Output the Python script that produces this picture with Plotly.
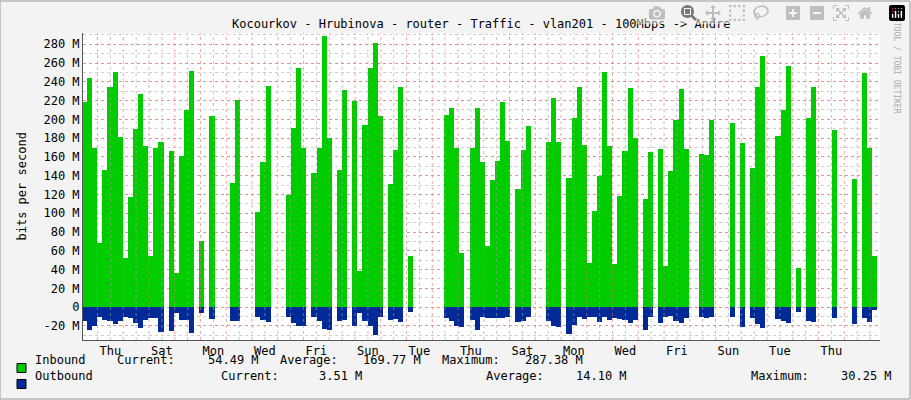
import plotly.graph_objects as go

# one slot ~ 4.8 h, 156 slots over the whole graph; None = no data
N = None
inbound = [219, 244, 170, 68, 146, 234, 250, 181, 52, 117,
           190, 227, 172, 55, 169, 176, N, 166, 36, 161,
           210, 252, N, 70, N, 204, N, N, N, 132,
           221, N, N, N, 101, 155, 236, N, N, N,
           119, 191, 255, 169, N, 143, 169, 289, 180, N,
           146, 231, N, 220, 38, 194, 255, 281, 204, N,
           131, 167, 235, N, 55, N, N, N, N, N,
           N, 205, 212, 169, 58, N, 169, 212, 155, 65,
           135, 156, 218, 177, N, 126, 167, 193, N, N,
           N, 176, 223, 176, N, 138, 201, 234, 173, 47,
           102, 140, 250, 172, 46, 118, 166, 233, 180, N,
           115, 165, N, 168, 44, 145, 199, 232, 168, N,
           N, 163, 162, 199, N, N, N, 196, N, 175,
           N, 148, 234, 267, N, N, 182, 210, 257, N,
           42, N, 201, 235, N, N, N, 189, N, N,
           N, 137, N, 249, 169, 54]
outbound = [-15, -24, -20, -10, -14, -15, -18, -15, -10, -12,
            -17, -22, -14, -12, -12, -27, N, -25, -6, -14,
            -14, -28, N, -6, N, -13, N, N, N, -15,
            -15, N, N, N, -10, -14, -16, N, N, N,
            -11, -17, -20, -20, N, -11, -15, -23, -24, N,
            -15, -14, N, -20, -6, -15, -20, -30, -10, N,
            -14, -13, -16, N, -5, N, N, N, N, N,
            N, -12, -15, -20, -21, N, -14, -24, -11, -12,
            -12, -12, -12, -11, N, -16, -15, -10, N, N,
            N, -15, -20, -21, N, -29, -19, -10, -13, -10,
            -11, -16, -10, -14, -12, -13, -14, -17, -14, N,
            -24, -10, N, -17, -10, -9, -15, -17, -12, N,
            N, -10, -12, -10, N, N, N, -11, N, -21,
            N, -12, -18, -22, N, N, -13, -15, -17, N,
            -5, N, -15, -16, N, N, N, -12, N, N,
            N, -18, N, -12, -16, -3]
slots = list(range(len(inbound)))

day_labels = ["Thu", "Sat", "Mon", "Wed", "Fri", "Sun", "Tue", "Thu",
              "Sat", "Mon", "Wed", "Fri", "Sun", "Tue", "Thu"]
day0 = 2.55      # first midnight, in slots
day_len = 5.05   # slots per day
y_ticks = list(range(-20, 281, 20))
y_text = [f"{v} M" if v else "0" for v in y_ticks]

fig = go.Figure()
fig.add_trace(go.Bar(x=slots, y=inbound, marker_color="#00cc00", width=1,
                     marker_line_width=0, name="Inbound"))
fig.add_trace(go.Bar(x=slots, y=outbound, marker_color="#002a97", width=1,
                     marker_line_width=0, name="Outbound"))

shapes = []
for k in range(32):
    xm = day0 + k * day_len
    if -0.5 < xm < 155.6:
        shapes.append(dict(type="line", xref="x", yref="paper", x0=xm, x1=xm, y0=0, y1=1,
                           line=dict(color="rgba(230,110,110,0.6)", width=1, dash="dot"), layer="above"))
    xn = xm + day_len / 2
    if -0.5 < xn < 155.6:
        shapes.append(dict(type="line", xref="x", yref="paper", x0=xn, x1=xn, y0=0, y1=1,
                           line=dict(color="rgba(160,160,160,0.6)", width=1, dash="dot"), layer="above"))

mono = "DejaVu Sans Mono"
ann = [dict(text="Kocourkov - Hrubinova - router - Traffic - vlan201 - 100Mbps -> Andre",
            xref="paper", yref="paper", x=0.5, y=(340 - 15) / 307, showarrow=False,
            font=dict(family=mono, size=12, color="#000")),
       dict(text="RRDTOOL / TOBI OETIKER", textangle=90, xref="paper", yref="paper",
            x=(902 - 83) / 797, y=(340 - 6) / 307, yanchor="top", showarrow=False,
            font=dict(family=mono, size=8, color="#aaa")),
       dict(text="bits per second", textangle=-90, xref="paper", yref="paper",
            x=(12 - 83) / 797, y=0.5, showarrow=False,
            font=dict(family=mono, size=12, color="#000"))]

def legend_text(txt, px, py, anchor="left"):
    ann.append(dict(text=txt, xref="paper", yref="paper", x=(px - 83) / 797,
                    y=(340 - py) / 307, xanchor=anchor, showarrow=False, borderpad=0,
                    font=dict(family=mono, size=12, color="#000")))

legend_text("Inbound", 34, 368)
legend_text("Current:", 116, 368)
legend_text("54.49 M", 260, 368, "right")
legend_text("Average:", 279, 368)
legend_text("169.77 M", 422, 368, "right")
legend_text("Maximum:", 441, 368)
legend_text("287.38 M", 584, 368, "right")
legend_text("Outbound", 34, 384)
legend_text("Current:", 220, 384)
legend_text("3.51 M", 363, 384, "right")
legend_text("Average:", 485, 384)
legend_text("14.10 M", 628, 384, "right")
legend_text("Maximum:", 750, 384)
legend_text("30.25 M", 893, 384, "right")

for py, col in [(368, "#00cc00"), (384, "#002a97")]:
    shapes.append(dict(type="rect", xref="paper", yref="paper",
                       x0=(17 - 83) / 797, x1=(26 - 83) / 797,
                       y0=(340 - py - 4.5) / 307, y1=(340 - py + 4.5) / 307,
                       fillcolor=col, line=dict(color="#000", width=1)))
shapes.append(dict(type="rect", xref="paper", yref="paper", x0=-83 / 797, x1=(910 - 83) / 797,
                   y0=(340 - 399) / 307, y1=(340 - 1) / 307, line=dict(color="#999", width=1)))

fig.update_layout(
    width=911, height=400, barmode="relative", bargap=0, showlegend=False,
    margin=dict(l=83, r=31, t=33, b=60),
    paper_bgcolor="#f3f3f3", plot_bgcolor="#ffffff",
    shapes=shapes, annotations=ann,
    xaxis=dict(range=[-0.3, 156], tickvals=[day0 + day_len / 2 + 2 * day_len * i for i in range(15)],
               ticktext=day_labels, showgrid=False, zeroline=False, showline=True,
               linecolor="#555", ticks="", tickfont=dict(family=mono, size=12, color="#000")),
    yaxis=dict(range=[-35, 292], tickvals=y_ticks, ticktext=y_text,
               gridcolor="rgba(230,110,110,0.6)", griddash="dot", zeroline=False,
               showline=True, linecolor="#555", ticks="", ticklen=3,
               tickfont=dict(family=mono, size=12, color="#000"),
               minor=dict(dtick=10, tick0=0, showgrid=True, gridcolor="rgba(160,160,160,0.5)",
                          griddash="dot")),
)
fig.write_html("out.html", post_script="document.body.style.margin='0';")
